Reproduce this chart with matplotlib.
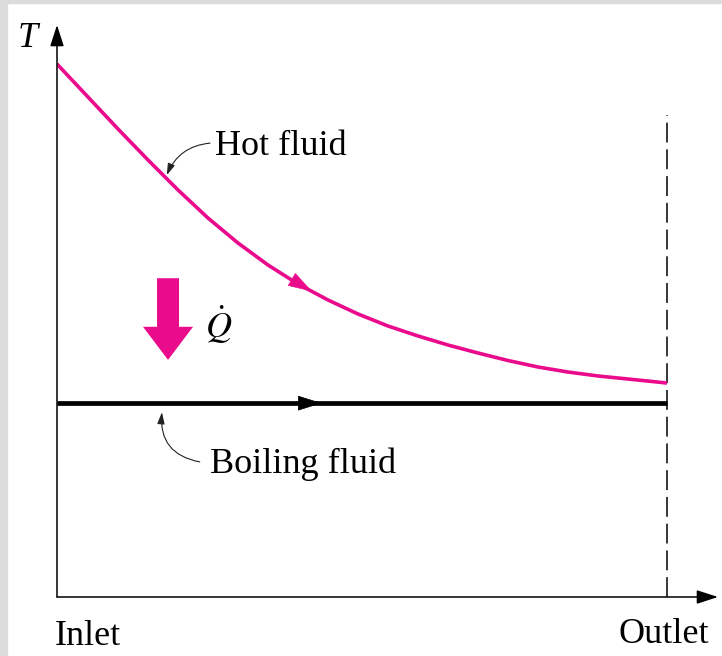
import numpy as np
import matplotlib
matplotlib.use("Agg")
import matplotlib.pyplot as plt
from matplotlib.patches import Rectangle, FancyArrow

plt.rcParams["mathtext.fontset"] = "stix"
plt.rcParams["font.family"] = "Liberation Serif"

# ── data (position along exchanger 0=inlet, 1=outlet; T in arbitrary units) ──
hot_x = [0.0, 0.0508, 0.1, 0.1492, 0.1984, 0.2475, 0.2967, 0.3459, 0.3951,
         0.4443, 0.4934, 0.5426, 0.5918, 0.641, 0.6902, 0.7393, 0.7885,
         0.8377, 0.8869, 0.9361, 1.0]
hot_T = [99.81, 93.63, 87.64, 81.84, 76.22, 70.97, 66.29, 62.17, 58.61,
         55.62, 53.0, 50.75, 48.88, 47.19, 45.69, 44.29, 43.07,
         42.13, 41.39, 40.82, 40.07]
boil_x = [0.0, 1.0]
boil_T = [36.3, 36.3]
outlet_top = 90.3

MAGENTA = "#EA0A8C"

fig = plt.figure(figsize=(7.22, 6.56), dpi=100)
# light grey frame strips
fig.patches.append(Rectangle((0, 0), 7 / 722, 1, transform=fig.transFigure,
                             color="#DCDCDC", zorder=0))
fig.patches.append(Rectangle((0, 1 - 3 / 656), 1, 3 / 656, transform=fig.transFigure,
                             color="#DCDCDC", zorder=0))

ax = fig.add_axes([57 / 722, 59 / 656, 661 / 722, 572 / 656])
ax.set_xlim(0, 661 / 610)
ax.set_ylim(0, 572 / 5.34)
ax.axis("off")

# axes with arrowheads
ax_arrow = dict(arrowstyle="-|>,head_length=1.3,head_width=0.42", lw=1.1,
                color="k", shrinkA=0, shrinkB=0)
ax.annotate("", xy=(0, 1), xytext=(0, 0), xycoords="axes fraction",
            arrowprops=ax_arrow)
ax.annotate("", xy=(1, 0), xytext=(0, 0), xycoords="axes fraction",
            arrowprops=ax_arrow)

# outlet dashed line
ax.plot([1, 1], [0, outlet_top], color="k", lw=1.1, ls=(0, (13, 4.5)))

# fluids
ax.plot(hot_x, hot_T, color=MAGENTA, lw=2.6, solid_capstyle="butt",
        solid_joinstyle="round")
ax.plot(boil_x, boil_T, color="k", lw=3.4, solid_capstyle="butt")

# direction arrowheads on the lines
ax.annotate("", xy=(0.418, np.interp(0.418, hot_x, hot_T)),
            xytext=(0.36, np.interp(0.36, hot_x, hot_T)),
            arrowprops=dict(arrowstyle="-|>,head_length=1.6,head_width=0.5",
                            color=MAGENTA, lw=0.5, shrinkA=0, shrinkB=0))
ax.annotate("", xy=(0.434, boil_T[0]), xytext=(0.38, boil_T[0]),
            arrowprops=dict(arrowstyle="-|>,head_length=1.6,head_width=0.5",
                            color="k", lw=0.5, shrinkA=0, shrinkB=0))

# heat flow block arrow
ax.add_patch(FancyArrow(0.182, 59.7, 0, -15.3, width=0.036, head_width=0.082,
                        head_length=6.2, length_includes_head=True,
                        color=MAGENTA, lw=0))
ax.text(0.243, 48.5, r"$\dot{Q}$", fontsize=26, va="baseline", ha="left")

# labels with curved leaders
lead = dict(arrowstyle="-|>,head_length=0.7,head_width=0.22", lw=0.8,
            color="#222222", shrinkA=0, shrinkB=0)
ax.annotate("", xy=(0.180, 79.0), xytext=(0.251, 85.0),
            arrowprops=dict(lead, connectionstyle="arc3,rad=0.3"))
ax.text(0.259, 82.8, "Hot fluid", fontsize=26, va="baseline", ha="left")

ax.annotate("", xy=(0.172, 34.6), xytext=(0.234, 25.3),
            arrowprops=dict(lead, connectionstyle="arc3,rad=-0.45"))
ax.text(0.251, 23.2, "Boiling fluid", fontsize=26, va="baseline", ha="left")

ax.text(-0.003, -9.0, "Inlet", fontsize=26, va="baseline", ha="left", clip_on=False)
ax.text(0.920, -8.6, "Outlet", fontsize=26, va="baseline", ha="left", clip_on=False)
ax.text(-0.064, 103.0, "T", fontsize=26, style="italic", va="baseline",
        ha="left", clip_on=False)

fig.savefig("out.png", dpi=100)
